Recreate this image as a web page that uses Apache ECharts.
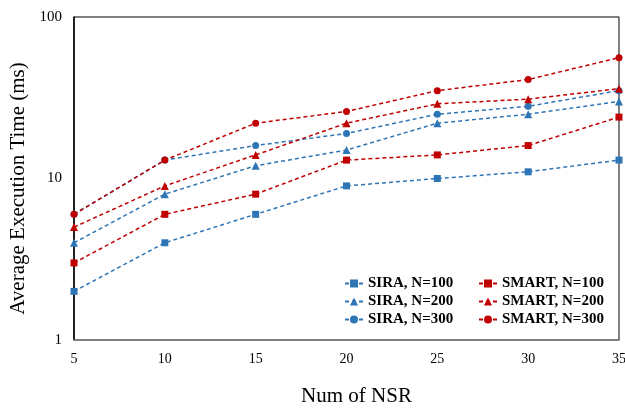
<!DOCTYPE html>
<html>
<head>
<meta charset="utf-8">
<script src="https://cdn.jsdelivr.net/npm/echarts@6/dist/echarts.min.js"></script>
<style>html,body{margin:0;padding:0;background:#fff}#chart{width:625px;height:411px}</style>
</head>
<body>
<div id="chart"></div>
<script>
// Number of NSRs (x) and average execution time in ms (y, log scale)
const nsrCounts = [5, 10, 15, 20, 25, 30, 35];
const sira100  = [2, 4, 6, 9, 10, 11, 13];
const sira200  = [4, 8, 12, 15, 22, 25, 30];
const sira300  = [6, 13, 16, 19, 25, 28, 35];
const smart100 = [3, 6, 8, 13, 14, 16, 24];
const smart200 = [5, 9, 14, 22, 29, 31, 36];
const smart300 = [6, 13, 22, 26, 35, 41, 56];
const yTicks = [1, 10, 100];

const BLUE = '#2e75b6';
const RED = '#c00000';
const FONT = '"Liberation Serif", "Times New Roman", serif';

function mk(name, vals, color, symbol, size) {
  return {
    name: name,
    type: 'line',
    data: nsrCounts.map((x, i) => [x, vals[i]]),
    symbol: symbol,
    symbolSize: size,
    itemStyle: { color: color },
    lineStyle: { color: color, width: 1.5, type: [4, 3] },
    emphasis: { disabled: true }
  };
}

const chart = echarts.init(document.getElementById('chart'));
chart.setOption({
  animation: false,
  backgroundColor: '#fff',
  grid: {
    left: 74, right: 6, top: 17, bottom: 71,
    outerBoundsMode: 'none', containLabel: false,
    show: true, borderColor: '#000', borderWidth: 1
  },
  xAxis: {
    type: 'value', min: 5, max: 35, interval: 5,
    name: 'Num of NSR', nameLocation: 'middle', nameGap: 46,
    nameTextStyle: { fontFamily: FONT, fontSize: 21, color: '#000', padding: [0, 0, 0, 20] },
    axisLine: { lineStyle: { color: '#808080', width: 1.5 } },
    axisTick: { show: false },
    splitLine: { show: false },
    axisLabel: { fontFamily: FONT, fontSize: 14, color: '#000', margin: 12 }
  },
  yAxis: [{
    type: 'log', logBase: 10, min: yTicks[0], max: yTicks[yTicks.length - 1],
    name: 'Average Execution Time (ms)', nameLocation: 'middle', nameGap: 40,
    nameTextStyle: { fontFamily: FONT, fontSize: 21, color: '#000', padding: [0, 20, 0, 0] },
    axisLine: { show: true, lineStyle: { color: '#000', width: 1.5 } },
    axisTick: { show: false },
    splitLine: { show: false },
    minorTick: { show: false },
    axisLabel: { fontFamily: FONT, fontSize: 15, color: '#000', margin: 12 }
  }, {
    type: 'log', logBase: 10, min: 1, max: 100, position: 'right',
    axisLine: { show: true, lineStyle: { color: '#808080', width: 1.5 } },
    axisTick: { show: false }, axisLabel: { show: false }, splitLine: { show: false }
  }],
  legend: [{
    orient: 'vertical', left: 339, top: 271, itemGap: 3, itemWidth: 18, itemHeight: 10,
    textStyle: { fontFamily: FONT, fontSize: 15, fontWeight: 'bold', color: '#000' },
    data: ['SIRA, N=100', 'SIRA, N=200', 'SIRA, N=300']
  }, {
    orient: 'vertical', left: 473, top: 271, itemGap: 3, itemWidth: 18, itemHeight: 10,
    textStyle: { fontFamily: FONT, fontSize: 15, fontWeight: 'bold', color: '#000' },
    data: ['SMART, N=100', 'SMART, N=200', 'SMART, N=300']
  }],
  series: [
    mk('SIRA, N=100', sira100, BLUE, 'rect', 7),
    mk('SIRA, N=200', sira200, BLUE, 'triangle', 8),
    mk('SIRA, N=300', sira300, BLUE, 'circle', 7),
    mk('SMART, N=100', smart100, RED, 'rect', 7),
    mk('SMART, N=200', smart200, RED, 'triangle', 8),
    mk('SMART, N=300', smart300, RED, 'circle', 7)
  ]
});
</script>
</body>
</html>
